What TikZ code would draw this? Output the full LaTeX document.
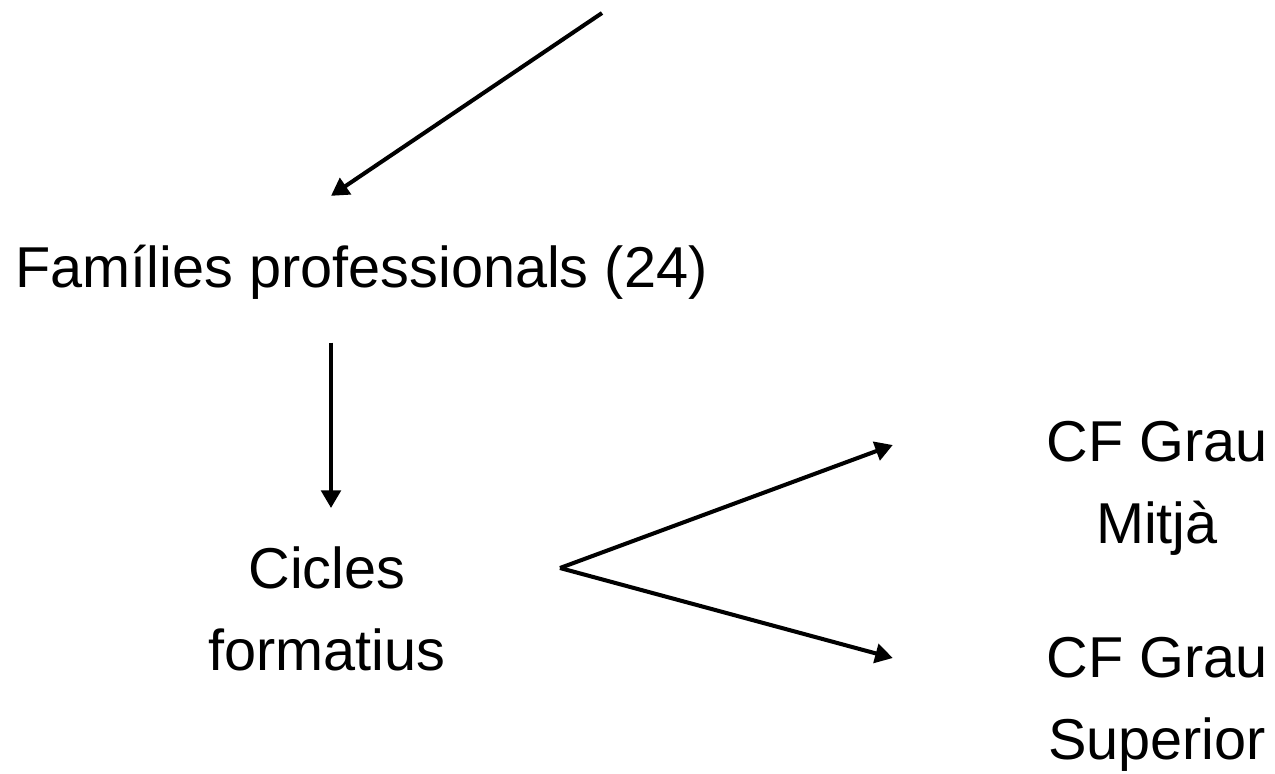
\documentclass[tikz,border=0pt]{standalone}
\usepackage{fontspec}
\setmainfont{Liberation Sans}
\usetikzlibrary{arrows.meta}

\begin{document}
\begin{tikzpicture}[
  arr/.style={-{Triangle[length=5pt,width=5.5pt]}, line width=1.15pt},
  lbl/.style={inner sep=0pt, align=center, font=\fontsize{16.4}{23.3}\selectfont}
]
\useasboundingbox (0,0) rectangle (12.75,-7.73);
\node[lbl, anchor=base] (fam) at (3.615,-2.87) {Famílies professionals (24)};
\node[lbl, anchor=north] (cic) at (3.27,-5.46) {Cicles\\formatius};
\node[lbl, anchor=north] (mit) at (11.57,-4.21) {CF Grau\\Mitjà};
\node[lbl, anchor=north] (sup) at (11.57,-6.37) {CF Grau\\Superior};
\coordinate (src) at (6.02,-0.13);
\coordinate (fork) at (5.60,-5.68);
% arrows
\draw[arr] (src) -- ([xshift=-0.305cm,yshift=0.48cm]fam.north);
\draw[arr, shorten <=0.43cm, shorten >=0.38cm] ([xshift=0.04cm]fam.south -| cic.north) -- ([xshift=0.04cm]cic.north);
\draw[arr] (fork) -- ([xshift=-1.53cm,yshift=-0.24cm]mit.north west);
\draw[arr] (fork) -- ([xshift=-1.53cm,yshift=-0.21cm]sup.north west);
\end{tikzpicture}
\end{document}
